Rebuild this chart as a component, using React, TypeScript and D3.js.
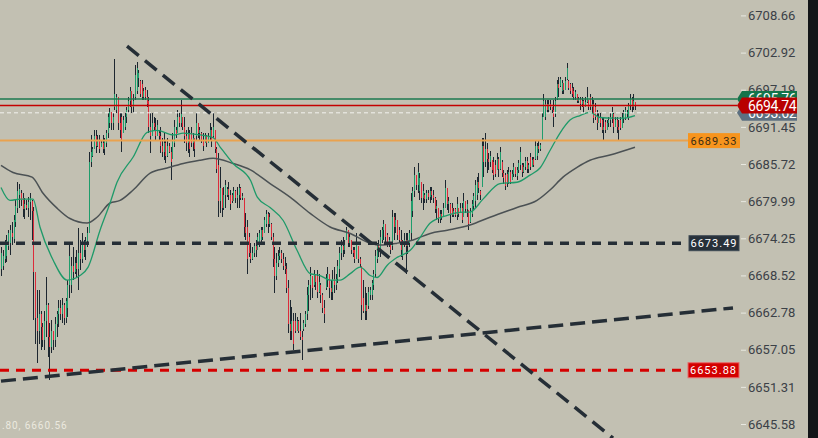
import React, { useEffect, useRef } from 'react';
import * as d3 from 'd3';

const W = 818;
const H = 438;

// price axis tick labels
const priceTicks = [6708.66, 6702.92, 6697.19, 6691.45, 6685.72, 6679.99, 6674.25, 6668.52, 6662.78, 6657.05, 6651.31, 6645.58];

// candle groups: [open, high, low, close]
const ohlcA: [number, number, number, number][] = [
  [6669.5,6672.9,6668.5,6672.0],[6670.0,6672.4,6669.3,6671.5],[6671.0,6674.0,6670.4,6673.2],[6671.5,6674.7,6670.6,6673.8],
  [6673.0,6675.5,6672.4,6675.0],[6673.5,6676.3,6671.6,6675.5],[6675.0,6676.8,6673.2,6674.5],[6674.2,6677.8,6673.5,6677.0],
  [6676.8,6680.1,6676.0,6679.2],[6679.0,6682.9,6678.1,6681.5],[6681.0,6682.7,6679.0,6681.8],[6681.3,6681.7,6679.3,6680.2],
  [6680.4,6681.2,6677.5,6678.8],[6678.8,6680.4,6677.3,6679.6],[6679.4,6680.1,6678.6,6679.0],[6679.0,6680.6,6677.5,6679.8],
  [6679.8,6681.2,6677.0,6680.4],[6680.0,6680.1,6674.0,6678.5],[6678.5,6679.1,6661.6,6669.0],[6669.0,6669.0,6658.0,6662.0],
  [6662.0,6666.2,6655.0,6660.0],[6660.0,6666.2,6658.0,6662.5],[6662.5,6663.1,6657.0,6660.5],[6660.5,6661.1,6657.4,6658.5],
  [6658.5,6663.1,6657.0,6661.5],[6661.5,6668.2,6659.0,6664.0],[6664.0,6664.2,6655.9,6659.0],[6659.0,6661.1,6652.3,6657.5],
  [6657.5,6661.6,6656.5,6660.0],[6660.0,6660.0,6657.0,6658.5],[6658.5,6662.1,6657.4,6661.0],[6661.0,6663.1,6659.0,6662.5],
  [6662.5,6664.7,6660.5,6663.5],[6663.5,6664.7,6661.6,6662.5],[6662.5,6665.1,6661.1,6664.0],[6664.0,6664.2,6660.8,6662.0],
  [6662.0,6665.1,6661.1,6664.5],[6663.5,6667.8,6662.1,6667.0],[6667.0,6673.2,6665.1,6671.5],[6667.0,6671.3,6665.8,6670.0],
  [6670.0,6672.9,6667.8,6669.0],[6669.0,6671.3,6668.8,6670.5],[6670.5,6672.4,6668.2,6669.5],[6669.5,6675.8,6666.2,6672.0],
  [6672.0,6674.0,6669.3,6671.0],[6671.0,6675.0,6670.4,6673.5],[6673.5,6674.0,6671.3,6672.5],[6672.5,6674.4,6670.9,6673.8],
  [6673.8,6676.0,6672.9,6675.0],
];
const ohlcB: [number, number, number, number][] = [
  [6675.0,6687.5,6675.0,6686.0],[6686.0,6690.2,6685.2,6687.5],[6687.0,6688.3,6686.8,6688.0],[6688.0,6690.9,6688.0,6690.0],
  [6690.0,6690.9,6687.4,6688.5],[6688.5,6690.2,6688.3,6689.5],[6689.5,6690.2,6687.4,6688.0],[6688.3,6689.4,6688.3,6689.0],
  [6689.0,6690.2,6687.4,6688.0],[6688.0,6689.7,6687.1,6689.2],[6689.0,6690.9,6688.3,6690.5],[6690.5,6693.6,6689.8,6693.0],
  [6692.0,6694.3,6691.2,6693.8],[6693.8,6693.8,6690.9,6692.0],[6692.0,6693.6,6690.9,6693.0],[6694.5,6702.0,6694.0,6696.5],
  [6694.0,6696.6,6693.6,6696.0],[6696.0,6696.0,6690.9,6692.0],[6692.0,6693.6,6689.8,6691.0],[6693.0,6693.6,6687.5,6689.5],
  [6690.5,6693.2,6690.5,6692.5],[6691.5,6693.6,6690.9,6693.0],[6693.0,6694.5,6692.0,6694.0],[6694.0,6696.0,6693.6,6695.5],
  [6695.5,6697.6,6694.5,6697.0],[6697.0,6697.0,6693.6,6694.5],[6694.5,6696.6,6693.6,6695.5],[6696.0,6701.0,6695.6,6699.5],
  [6697.0,6701.4,6696.6,6700.5],[6699.0,6700.2,6697.6,6699.8],[6698.5,6698.7,6696.0,6696.5],[6698.0,6698.7,6695.6,6696.0],
  [6696.0,6697.4,6695.6,6697.0],[6697.2,6697.6,6695.6,6696.0],[6696.0,6697.1,6694.5,6695.0],[6695.5,6696.0,6690.5,6691.5],
  [6691.5,6693.6,6687.4,6690.0],[6690.0,6693.6,6690.0,6692.0],[6692.0,6692.9,6690.9,6691.5],[6691.5,6692.8,6689.4,6690.0],
  [6690.0,6692.5,6690.0,6691.8],[6690.5,6690.9,6689.4,6690.0],[6690.0,6691.4,6687.4,6688.5],[6688.5,6689.8,6686.8,6687.5],
  [6687.5,6690.6,6686.3,6689.0],[6689.0,6689.4,6685.8,6687.0],[6687.0,6689.8,6686.8,6688.5],[6688.5,6688.9,6687.4,6687.6],
  [6687.6,6688.3,6683.2,6686.0],[6686.5,6690.5,6686.5,6689.5],[6689.0,6692.5,6688.3,6691.5],[6691.0,6691.4,6689.8,6690.3],
  [6690.5,6694.0,6690.5,6693.0],[6693.0,6693.6,6691.4,6692.0],[6692.0,6695.6,6691.4,6693.5],[6693.0,6693.0,6690.9,6691.5],
  [6691.5,6692.9,6688.9,6690.0],[6690.0,6690.9,6687.8,6689.0],[6689.0,6691.4,6687.4,6690.5],[6690.5,6690.9,6686.8,6688.0],
  [6690.5,6691.4,6688.3,6689.0],[6689.0,6690.5,6687.8,6689.8],[6689.8,6689.8,6686.8,6688.0],[6690.0,6693.6,6689.4,6692.0],
  [6692.0,6692.0,6689.8,6690.5],[6690.5,6691.4,6689.4,6691.0],[6690.5,6690.6,6688.9,6689.3],[6689.3,6690.5,6687.8,6688.5],
  [6689.0,6690.5,6688.9,6690.0],[6690.0,6690.2,6688.3,6689.0],[6689.0,6690.5,6688.9,6690.0],[6690.0,6692.0,6689.4,6691.0],
  [6691.0,6691.4,6688.3,6689.5],[6690.0,6693.6,6689.8,6691.5],[6691.0,6691.0,6687.4,6688.0],[6688.0,6688.3,6684.3,6685.0],
  [6685.5,6687.4,6677.5,6680.0],[6680.0,6685.2,6678.1,6682.0],[6682.0,6682.0,6677.5,6679.0],[6679.0,6682.1,6678.6,6681.0],
  [6681.0,6683.2,6679.0,6682.5],[6681.0,6682.1,6680.6,6681.8],[6681.8,6682.9,6680.1,6681.0],
];
const ohlcC: [number, number, number, number][] = [
  [6681.0,6681.7,6678.6,6679.5],[6681.0,6681.2,6679.7,6680.0],[6680.0,6682.1,6680.0,6681.5],[6681.5,6681.7,6679.7,6680.5],
  [6680.5,6682.1,6679.0,6681.0],[6681.0,6682.7,6679.0,6682.0],[6682.0,6682.1,6680.1,6680.5],[6680.5,6681.2,6680.1,6680.8],
  [6680.5,6680.5,6674.4,6676.0],[6676.0,6678.1,6674.0,6675.0],[6676.0,6677.0,6668.8,6671.0],[6674.5,6675.0,6671.3,6672.0],
  [6672.0,6673.5,6670.4,6671.0],[6671.0,6672.9,6670.9,6672.0],[6672.0,6673.5,6671.3,6673.0],[6673.0,6674.0,6671.3,6672.5],
  [6672.5,6675.0,6672.4,6674.5],[6673.5,6675.5,6672.9,6675.0],[6674.0,6676.0,6673.5,6675.5],[6675.5,6676.0,6674.0,6674.5],
  [6675.0,6677.5,6675.0,6677.0],[6676.5,6678.6,6676.0,6678.0],[6678.0,6678.3,6675.0,6676.5],[6676.5,6678.1,6676.0,6677.5],
  [6676.5,6676.6,6674.0,6674.5],[6674.5,6675.0,6669.8,6671.0],[6671.0,6672.9,6665.8,6668.5],[6668.5,6672.0,6667.8,6670.5],
  [6670.5,6672.4,6669.8,6671.5],[6671.5,6672.9,6670.9,6672.0],[6672.0,6672.4,6670.4,6671.0],[6671.0,6672.0,6669.3,6670.0],
  [6670.0,6671.3,6668.8,6669.5],[6669.5,6670.4,6665.8,6666.5],[6666.5,6667.8,6659.6,6661.0],[6661.0,6664.7,6658.5,6660.0],
  [6660.0,6663.6,6658.5,6661.5],[6661.5,6662.7,6657.0,6658.0],[6661.5,6662.7,6659.6,6660.0],[6660.0,6662.1,6660.0,6661.5],
  [6661.5,6661.6,6659.6,6660.0],[6660.0,6662.7,6658.5,6659.0],[6659.0,6660.0,6655.4,6658.5],[6660.2,6661.6,6660.0,6661.2],
  [6661.0,6663.1,6660.5,6662.5],[6662.5,6666.7,6661.6,6665.5],[6665.5,6667.8,6663.1,6667.0],[6667.0,6669.8,6664.7,6668.5],
  [6668.5,6668.5,6665.1,6666.5],[6667.0,6669.3,6666.7,6668.8],[6668.8,6668.8,6666.2,6667.5],[6668.5,6669.3,6665.1,6666.0],
  [6666.0,6668.8,6665.8,6667.5],[6667.0,6667.3,6664.2,6665.5],[6665.5,6665.8,6662.7,6663.5],[6663.5,6664.7,6661.1,6662.5],
  [6666.5,6668.8,6666.2,6668.0],[6668.0,6669.8,6666.7,6668.8],[6668.8,6668.8,6665.1,6666.5],[6666.5,6667.8,6664.7,6666.0],
  [6666.0,6669.3,6664.7,6668.0],[6668.0,6669.8,6665.8,6667.0],[6667.0,6668.8,6666.2,6668.0],[6668.0,6670.9,6667.3,6670.0],
  [6669.5,6672.9,6668.2,6672.0],[6672.0,6674.0,6670.9,6673.0],[6673.0,6674.4,6671.3,6672.5],[6672.5,6674.0,6671.9,6673.5],
  [6674.0,6676.0,6674.0,6675.5],[6675.5,6675.5,6672.9,6673.5],[6673.5,6675.0,6672.9,6674.5],[6674.0,6674.0,6671.9,6672.5],
  [6672.5,6672.9,6671.3,6672.0],[6672.5,6672.9,6670.4,6671.0],[6671.0,6675.0,6671.0,6673.5],[6673.0,6673.0,6670.4,6671.0],
  [6671.0,6671.3,6669.8,6670.3],[6670.0,6670.0,6661.6,6664.0],[6665.0,6667.8,6662.7,6663.0],[6663.0,6666.7,6661.6,6664.0],
  [6664.0,6665.8,6661.6,6663.0],[6663.8,6666.7,6663.4,6666.0],[6665.5,6666.7,6664.7,6666.2],[6665.5,6667.8,6664.7,6667.3],
  [6667.0,6669.3,6666.2,6668.8],[6668.8,6672.4,6668.2,6671.5],[6671.0,6673.5,6670.4,6673.0],[6673.0,6674.0,6671.3,6672.5],
  [6672.5,6675.5,6671.3,6674.5],[6674.0,6676.0,6673.5,6675.5],[6675.5,6677.0,6674.0,6676.5],[6676.5,6676.5,6673.5,6674.5],
  [6674.8,6675.0,6672.9,6673.5],[6673.5,6674.4,6672.9,6674.0],[6673.5,6673.5,6671.9,6672.5],[6673.0,6678.6,6672.5,6677.5],
  [6677.5,6678.1,6674.0,6676.0],[6676.0,6678.1,6675.0,6677.0],[6677.0,6677.0,6674.0,6674.8],[6675.5,6676.0,6673.5,6674.0],
  [6674.0,6675.5,6671.3,6672.5],[6671.5,6674.0,6670.9,6673.5],[6673.5,6675.0,6672.9,6674.0],[6674.0,6675.0,6668.8,6673.0],
  [6673.0,6675.0,6671.9,6674.0],[6673.5,6675.5,6672.9,6675.0],[6675.0,6681.2,6674.0,6680.0],[6678.5,6682.1,6677.5,6681.5],
  [6681.5,6685.2,6680.6,6684.0],[6684.0,6684.0,6681.7,6682.5],[6682.5,6685.8,6681.2,6684.5],[6681.5,6684.3,6680.1,6683.5],
  [6683.0,6683.0,6679.7,6680.5],[6680.5,6682.7,6678.6,6681.5],[6681.0,6681.2,6679.7,6680.3],[6680.3,6681.7,6679.7,6681.2],
  [6681.2,6681.7,6680.1,6680.6],[6680.6,6682.1,6679.7,6681.5],[6681.5,6682.1,6680.1,6681.0],[6681.0,6681.7,6679.7,6680.5],
  [6680.5,6680.6,6678.1,6678.8],[6678.8,6680.1,6677.0,6679.3],[6679.0,6679.0,6676.6,6677.2],[6677.2,6678.6,6676.6,6678.0],
  [6678.0,6678.6,6677.0,6677.5],[6677.5,6679.7,6677.5,6679.0],[6679.0,6683.2,6679.0,6682.0],[6682.0,6682.0,6678.6,6679.5],
  [6679.5,6680.6,6678.1,6680.0],
];
const ohlcD: [number, number, number, number][] = [
  [6679.5,6679.7,6676.6,6678.0],[6679.0,6679.7,6677.5,6677.8],[6677.8,6679.0,6677.5,6678.5],[6678.8,6679.0,6677.5,6677.8],
  [6677.8,6680.6,6677.0,6679.5],[6679.0,6679.0,6677.5,6678.0],[6678.1,6679.7,6678.1,6679.0],[6679.0,6679.7,6676.6,6677.0],
  [6677.5,6681.2,6677.5,6680.0],[6680.0,6680.0,6678.1,6678.8],[6678.8,6680.1,6677.5,6679.5],[6678.6,6678.6,6675.5,6676.5],
  [6676.8,6679.0,6676.6,6678.5],[6678.0,6680.1,6677.5,6679.5],[6679.3,6681.2,6678.6,6680.8],[6680.0,6683.2,6679.0,6682.5],
  [6681.0,6683.7,6680.1,6683.0],[6683.0,6684.3,6681.2,6682.0],[6681.5,6681.7,6680.1,6681.0],[6682.1,6689.8,6682.1,6688.5],
  [6688.5,6689.8,6683.7,6686.0],[6686.0,6690.5,6685.2,6688.0],[6688.0,6688.9,6684.3,6686.5],[6686.5,6687.4,6684.8,6686.0],
  [6686.0,6687.8,6685.2,6687.0],[6686.3,6686.3,6684.3,6684.8],[6686.0,6686.8,6683.2,6684.0],[6685.5,6686.3,6683.7,6684.2],
  [6684.8,6687.4,6684.8,6686.5],[6686.5,6686.8,6683.7,6685.0],[6685.0,6688.3,6684.8,6687.5],[6686.0,6686.3,6683.7,6684.3],
  [6684.3,6684.8,6682.7,6683.5],[6684.0,6684.3,6681.7,6682.3],[6684.2,6684.8,6682.1,6682.8],[6682.8,6685.2,6682.7,6684.5],
  [6684.5,6684.8,6682.7,6683.0],[6683.2,6684.8,6683.2,6684.2],[6684.2,6685.8,6683.7,6685.2],[6685.2,6685.2,6683.7,6684.2],
  [6683.8,6685.2,6683.2,6684.8],[6684.8,6686.3,6684.3,6685.8],[6685.5,6688.3,6684.8,6687.5],[6685.5,6685.8,6683.7,6684.5],
  [6684.5,6685.8,6684.3,6685.3],[6685.3,6686.8,6684.8,6686.2],[6686.2,6686.8,6684.3,6685.0],[6685.0,6685.8,6684.3,6685.5],
  [6686.8,6687.4,6684.8,6685.3],[6685.3,6686.8,6685.2,6686.3],[6686.5,6686.8,6685.2,6685.5],[6686.5,6689.4,6686.3,6688.5],
  [6687.0,6688.9,6686.3,6688.5],[6688.5,6689.4,6687.4,6688.0],[6688.0,6688.9,6687.8,6688.6],[6689.4,6693.6,6689.4,6693.0],
  [6693.0,6696.6,6692.9,6695.5],[6693.0,6695.6,6692.5,6695.0],[6695.0,6695.6,6693.6,6694.0],[6694.0,6695.6,6693.6,6695.0],
  [6695.0,6695.6,6694.0,6694.5],[6694.5,6694.5,6693.6,6694.0],[6694.0,6695.6,6691.4,6693.0],[6693.5,6696.0,6692.9,6695.5],
  [6695.8,6698.7,6695.6,6698.0],[6698.0,6699.1,6696.0,6697.5],[6697.8,6699.1,6697.6,6698.8],[6697.0,6698.7,6696.6,6698.2],
  [6698.2,6698.2,6696.6,6697.2],[6697.2,6699.1,6697.1,6698.5],[6698.8,6701.3,6698.7,6700.5],[6698.5,6698.7,6697.1,6697.5],
  [6698.0,6698.2,6696.6,6697.0],[6697.5,6698.2,6696.0,6696.5],[6697.0,6697.6,6695.6,6696.0],[6696.0,6697.1,6695.6,6696.8],
  [6696.5,6696.6,6695.1,6695.5],[6695.5,6696.0,6695.1,6695.8],[6695.8,6696.0,6694.0,6695.0],[6695.0,6696.0,6694.5,6695.5],
  [6695.5,6695.6,6693.6,6694.5],[6694.5,6696.0,6694.5,6695.3],[6695.3,6697.6,6695.1,6696.0],[6695.6,6695.6,6694.0,6694.5],
  [6696.0,6696.6,6694.0,6694.5],[6694.5,6696.0,6693.6,6695.0],[6695.0,6695.6,6692.0,6692.8],[6694.5,6695.1,6692.5,6693.0],
  [6693.0,6694.0,6690.9,6692.0],[6692.0,6693.6,6692.0,6693.0],[6693.0,6693.6,6691.4,6692.0],[6692.5,6692.9,6690.5,6691.0],
  [6691.0,6692.9,6689.4,6691.5],[6692.2,6692.5,6690.5,6691.0],[6691.0,6692.5,6690.9,6692.0],[6692.0,6692.9,6691.4,6692.5],
  [6692.5,6693.6,6691.4,6693.0],[6693.0,6694.5,6692.0,6693.8],[6693.5,6693.6,6690.5,6691.5],[6691.5,6692.9,6691.4,6692.5],
  [6692.5,6692.9,6690.5,6691.5],[6691.5,6692.5,6689.4,6691.0],[6692.5,6692.9,6690.9,6691.2],[6691.2,6693.6,6691.2,6692.8],
  [6692.8,6694.0,6692.0,6693.5],[6692.8,6694.5,6692.5,6694.0],[6693.5,6694.0,6692.9,6693.8],[6693.0,6695.1,6692.5,6694.8],
  [6694.8,6696.6,6694.0,6695.8],[6695.8,6696.0,6693.6,6694.5],[6694.5,6696.6,6694.0,6695.5],[6695.3,6695.3,6694.0,6694.74],
];

// moving averages: [candle index, value]
const fastMa: [number, number][] = [
  [0,6682.1],[5,6680.1],[10.6,6680.3],[17.8,6680.3],[21.7,6676.0],[29,6670.9],[36.8,6667.8],[44,6668.5],[48.5,6669.8],
  [55.5,6675.5],[61.4,6679.7],[65.5,6682.9],[75,6686.8],[83.2,6690.6],[89,6690.9],[98.6,6690.2],[104.5,6690.5],
  [114.5,6690.2],[122,6689.8],[126.3,6688.3],[133.8,6685.8],[144,6683.2],[148,6680.6],[155.5,6679.0],[163.2,6677.0],
  [171.3,6672.4],[179,6668.8],[184.8,6668.5],[190.7,6667.8],[196.6,6667.8],[202.5,6668.8],[208.3,6669.8],[214.2,6668.5],
  [218.3,6668.2],[224.2,6670.1],[230,6671.3],[237.7,6672.4],[243.5,6674.4],[249.4,6676.6],[259.4,6677.8],[268.8,6678.3],
  [273,6678.3],[280.8,6680.3],[291,6682.7],[301.2,6682.9],[309,6684.0],[315,6685.1],[321,6687.8],[327,6690.5],
  [333,6692.5],[339,6693.2],[345,6693.7],[351,6692.9],[358.8,6692.8],[364.8,6692.8],[372,6693.2],
];
const slowMa: [number, number][] = [
  [0,6685.5],[6.7,6684.4],[17.3,6683.7],[23.4,6681.2],[31.2,6678.9],[38.4,6677.3],[47.9,6676.6],[53.7,6677.5],[61.4,6679.7],
  [67.3,6680.1],[75,6681.7],[85,6684.3],[95,6685.1],[104.5,6685.8],[114.5,6686.3],[122,6686.6],[133.8,6685.8],[144,6684.8],
  [155.5,6682.7],[167.2,6680.6],[179,6678.1],[190.7,6676.0],[202.5,6675.0],[214.2,6673.5],[220,6673.2],[230,6673.5],
  [239.4,6674.0],[249.4,6675.0],[259.4,6675.5],[273,6676.3],[285,6677.5],[301.2,6679.0],[313.2,6680.1],[321,6681.7],
  [328.8,6683.7],[337.2,6685.2],[345,6686.3],[357,6687.1],[372,6688.3],
];

// drawn trend lines: [candle index, price]
const downTrend: [number, number][] = [[71.4, 6703.9], [358.8, 6643.4]];
const upTrend: [number, number][] = [[0, 6652.2], [430.8, 6663.5]];

// price levels
const levelOrange = 6689.33;
const levelBlack = 6673.49;
const levelRed = 6653.88;
const lastPrice = 6694.74;
const askPrice = 6695.76;
const bidPrice = 6693.62;

const FONT = 'Roboto, "Noto Sans", sans-serif';

export default function App() {
  const ref = useRef<SVGSVGElement>(null);

  useEffect(() => {
    document.body.style.margin = '0';
    const candles = [...ohlcA, ...ohlcB, ...ohlcC, ...ohlcD];
    const n = candles.length;
    const nA = ohlcA.length, nB = ohlcB.length, nC = ohlcC.length;

    const svg = d3.select(ref.current);
    svg.selectAll('*').remove();

    const x = d3.scaleLinear()
      .domain([0, nA, nA + nB, nA + nB + nC, n - 1])
      .range([1, 89, 230, 450, 635]);
    const y = d3.scaleLinear().domain([6645.58, 6708.66]).range([424.0, 15.4]);

    svg.append('rect').attr('width', W).attr('height', H).attr('fill', '#c2c0b2');

    // candles
    const g = svg.append('g').attr('shape-rendering', 'crispEdges');
    candles.forEach((c, i) => {
      const [o, h, l, cl] = c;
      const hi = Math.max(h, o, cl), lo = Math.min(l, o, cl);
      const xi = Math.round(x(i));
      g.append('rect').attr('x', xi).attr('y', y(hi)).attr('width', 1)
        .attr('height', Math.max(1, y(lo) - y(hi))).attr('fill', '#1d2730');
      const top = y(Math.max(o, cl)), bot = y(Math.min(o, cl));
      g.append('rect').attr('x', xi).attr('y', top).attr('width', 1)
        .attr('height', Math.max(1, bot - top))
        .attr('fill', cl >= o ? '#1f9d6c' : '#dc2b3a');
    });

    // moving averages
    const line = d3.line<[number, number]>().x(d => x(d[0])).y(d => y(d[1])).curve(d3.curveMonotoneX);
    svg.append('path').attr('d', line(slowMa)).attr('fill', 'none').attr('stroke', '#4b5154').attr('stroke-width', 1.5);
    svg.append('path').attr('d', line(fastMa)).attr('fill', 'none').attr('stroke', '#1e9a69').attr('stroke-width', 1.3);

    // horizontal levels
    const hline = (p: number, x2: number, color: string, w: number, dash?: string) => {
      const l = svg.append('line').attr('x1', 0).attr('x2', x2).attr('y1', y(p)).attr('y2', y(p))
        .attr('stroke', color).attr('stroke-width', w);
      if (dash) l.attr('stroke-dasharray', dash);
    };
    hline(levelOrange, 688, '#e9a24f', 2);
    hline(askPrice, 737, '#1b7a4f', 1.4);
    hline(lastPrice, 737, '#c40000', 1.4);
    hline(bidPrice, 737, '#f2f2ee', 1, '4 3');
    hline(levelBlack, 688, '#252e36', 3.5, '9 7');
    hline(levelRed, 688, '#d50000', 3, '9 7');

    // trend lines
    const tline = (pts: [number, number][], dash: string) => {
      svg.append('line')
        .attr('x1', x(pts[0][0])).attr('y1', y(pts[0][1]))
        .attr('x2', x(pts[1][0])).attr('y2', y(pts[1][1]))
        .attr('stroke', '#252e36').attr('stroke-width', 3.5).attr('stroke-dasharray', dash);
    };
    tline(downTrend, '15 8');
    tline(upTrend, '15 7');

    // right axis
    const axis = d3.axisRight(y).tickValues(priceTicks).tickSize(5).tickPadding(2).tickFormat(d => (d as number).toFixed(2));
    const ag = svg.append('g').attr('transform', 'translate(741,0)').call(axis);
    ag.select('.domain').remove();
    ag.selectAll('line').attr('stroke', '#e8e8e0');
    ag.selectAll('text').attr('fill', '#3b4147').attr('font-size', 13).attr('font-family', FONT);

    // level labels
    const label = (p: number, x0: number, w: number, fill: string, stroke: string | null, color: string) => {
      const cy = y(p);
      const r = svg.append('rect').attr('x', x0).attr('y', cy - 7.5).attr('width', w).attr('height', 15).attr('fill', fill);
      if (stroke) r.attr('stroke', stroke).attr('stroke-width', 1);
      svg.append('text').attr('x', x0 + w / 2).attr('y', cy).attr('dy', '0.36em').attr('text-anchor', 'middle')
        .attr('fill', color).attr('font-size', 11).attr('font-family', FONT).attr('letter-spacing', 1)
        .text(p.toFixed(2));
    };
    label(levelOrange, 688, 52, '#f7941d', null, '#3a2c14');
    label(levelBlack, 689, 50, '#27313a', '#3e4a54', '#ffffff');
    label(levelRed, 688, 51, '#d40000', '#e86a6a', '#ffffff');

    // price tags
    const tag = (p: number, fill: string) => {
      const cy = y(p);
      svg.append('path')
        .attr('d', `M737,${cy} L742,${cy - 8} L797,${cy - 8} L797,${cy + 8} L742,${cy + 8} Z`)
        .attr('fill', fill);
      svg.append('text').attr('x', 748).attr('y', cy).attr('dy', '0.36em')
        .attr('fill', '#ffffff').attr('font-size', 14).attr('letter-spacing', -0.4).attr('font-family', FONT)
        .text(p.toFixed(2));
    };
    tag(bidPrice, '#5d7080');
    tag(askPrice, '#13744a');
    tag(lastPrice, '#b80000');

    // right edge bar
    svg.append('rect').attr('x', 808).attr('y', 0).attr('width', 10).attr('height', H).attr('fill', '#121518');

    // crosshair readout
    svg.append('text').attr('x', 2).attr('y', 429).attr('fill', '#ebe9df').attr('font-size', 10)
      .attr('letter-spacing', 0.9).attr('font-family', FONT).text('.80, 6660.56');
  }, []);

  return (
    <div style={{ position: 'absolute', left: 0, top: 0 }}>
      <svg ref={ref} width={W} height={H} style={{ display: 'block' }} />
    </div>
  );
}
